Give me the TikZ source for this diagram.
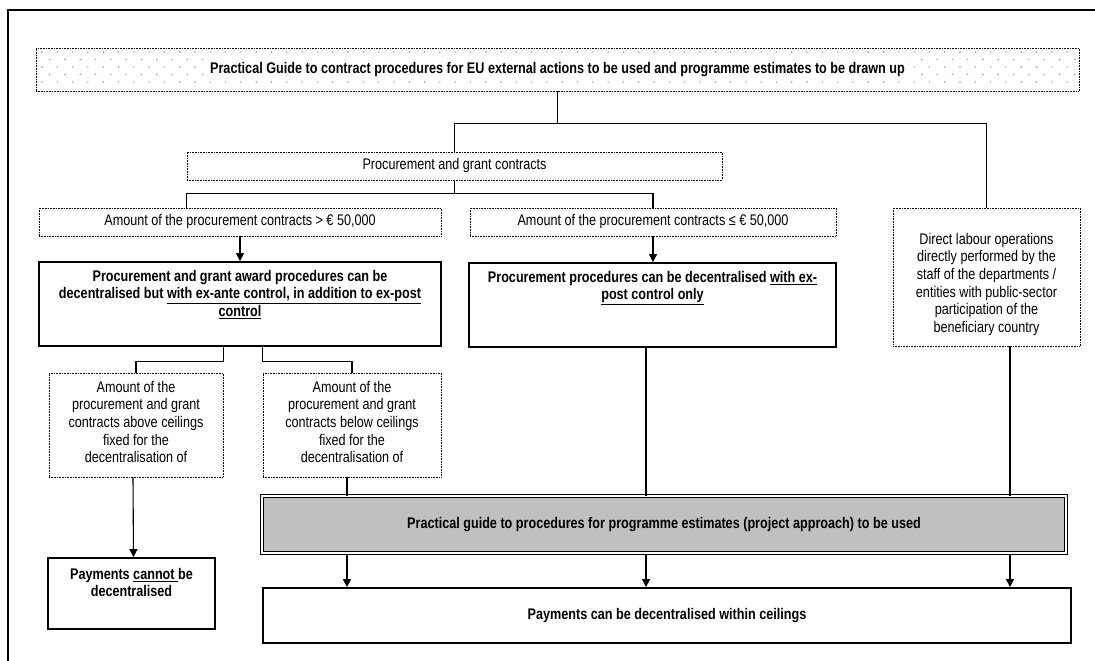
\documentclass[tikz,border=0pt]{standalone}
\usepackage{fontspec}
\setmainfont{Liberation Sans}[FakeStretch=0.82]
\usetikzlibrary{arrows.meta}
\definecolor{dotgrey}{RGB}{150,150,150}
\definecolor{boxgrey}{RGB}{192,192,192}
\newcommand{\inbox}[4]{\parbox[c][#2][t]{#1}{\centering\vspace*{#3}#4\par}}

\begin{document}
\begin{tikzpicture}[x=1pt, y=-1pt,
  every node/.style={font=\fontsize{15.4}{17.7}\selectfont, inner sep=0pt},
  dotbox/.style={draw, densely dotted, line width=0.6pt},
  boldbox/.style={draw, line width=1.8pt, font=\fontsize{15.4}{17.7}\selectfont\bfseries},
  conn/.style={line width=1.1pt},
  arr/.style={conn, -{Triangle[length=8pt, width=8pt]}}]
\useasboundingbox (0,0) rectangle (1095,661);
\clip (0,0) rectangle (1095,661);
%outer frame
\draw[line width=1.1pt] (8,10) rectangle (1120,690);
%dots of the title box
\foreach \r in {0,...,4}{
  \foreach \c in {0,...,67}{
    \fill[dotgrey] ({42+15.3*\c+7.65*mod(\r,2)},{52+7.5*\r}) circle (0.8pt);
  }
}
\node[dotbox, minimum width=1043pt, minimum height=43pt] (guide) at (557.5,69.5) {\colorbox{white}{\bfseries Practical Guide to contract procedures for EU external actions to be used and programme estimates to be drawn up}};
\node[dotbox, minimum width=535pt, minimum height=28pt] (proc) at (454.5,166) {Procurement and grant contracts};
\node[dotbox, minimum width=402pt, minimum height=28pt] (amtA) at (240,222) {Amount of the procurement contracts > € 50,000};
\node[dotbox, minimum width=366pt, minimum height=28pt] (amtB) at (653,222) {Amount of the procurement contracts ≤ € 50,000};
\node[dotbox] (direct) at (986.5,277) {\inbox{187pt}{138pt}{25pt}{Direct labour operations\\ directly performed by the\\ staff of the departments /\\ entities with public-sector\\ participation of the\\ beneficiary country}};
\node[boldbox] (bigA) at (240,304) {\inbox{402pt}{84pt}{8pt}{Procurement and grant award procedures can be\\ decentralised but \underline{with ex-ante control, in addition to ex-post}\\ \underline{control}}};
\node[boldbox] (bigB) at (652.5,305) {\inbox{367pt}{84pt}{8pt}{Procurement procedures can be decentralised \underline{with ex-}\\ \underline{post control only}}};
\node[dotbox] (lsmall) at (136,425) {\inbox{174pt}{104pt}{8pt}{Amount of the\\ procurement and grant\\ contracts above ceilings\\ fixed for the\\ decentralisation of}};
\node[dotbox] (rsmall) at (352,425) {\inbox{178pt}{104pt}{8pt}{Amount of the\\ procurement and grant\\ contracts below ceilings\\ fixed for the\\ decentralisation of}};
\node[boldbox] (cannot) at (131.5,593.5) {\inbox{167pt}{71pt}{10pt}{Payments \underline{cannot\ }be\\ decentralised}};
\node[draw, fill=boxgrey, double=white, double distance=1.5pt, line width=1pt, minimum width=804pt, minimum height=57pt, font=\fontsize{15.4}{17.7}\selectfont\bfseries] (grey) at (664,524.5) {Practical guide to procedures for programme estimates (project approach) to be used};
\node[boldbox, minimum width=808pt, minimum height=55pt] (pay) at (667,615.5) {Payments can be decentralised within ceilings};
%connectors from the title
\draw[conn] (guide.south) -- ++(0,32) coordinate (top);
\draw[conn] (top) -| (proc.north);
\draw[conn] (top) -| (direct.north);
\draw[conn] (proc.south) -- ++(0,13) coordinate (split);
\draw[conn] (split) -| (amtA.north -| proc.west);
\draw[conn] (split) -| (amtB.north);
\draw[arr] (amtA.south) -- (bigA.north);
\draw[arr] (amtB.south) -- (bigB.north -| amtB.south);
%branches under bigA
\draw[conn] (bigA.south -| lsmall.east) -- ++(0,15) -| (lsmall.north);
\draw[conn] (bigA.south -| rsmall.west) -- ++(0,15) -| (rsmall.north);
\draw[arr] ([xshift=-3pt]lsmall.south) -- ([xshift=2pt]cannot.north);
%through the grey box to payments
\foreach \x/\src [count=\i] in {347/rsmall, 646/bigB, 1010/direct}{
  \coordinate (col\i) at (\x,0);
  \draw[conn] (\src.south -| col\i) -- (grey.north -| col\i);
  \draw[arr] (grey.south -| col\i) -- (pay.north -| col\i);
}
\end{tikzpicture}
\end{document}
